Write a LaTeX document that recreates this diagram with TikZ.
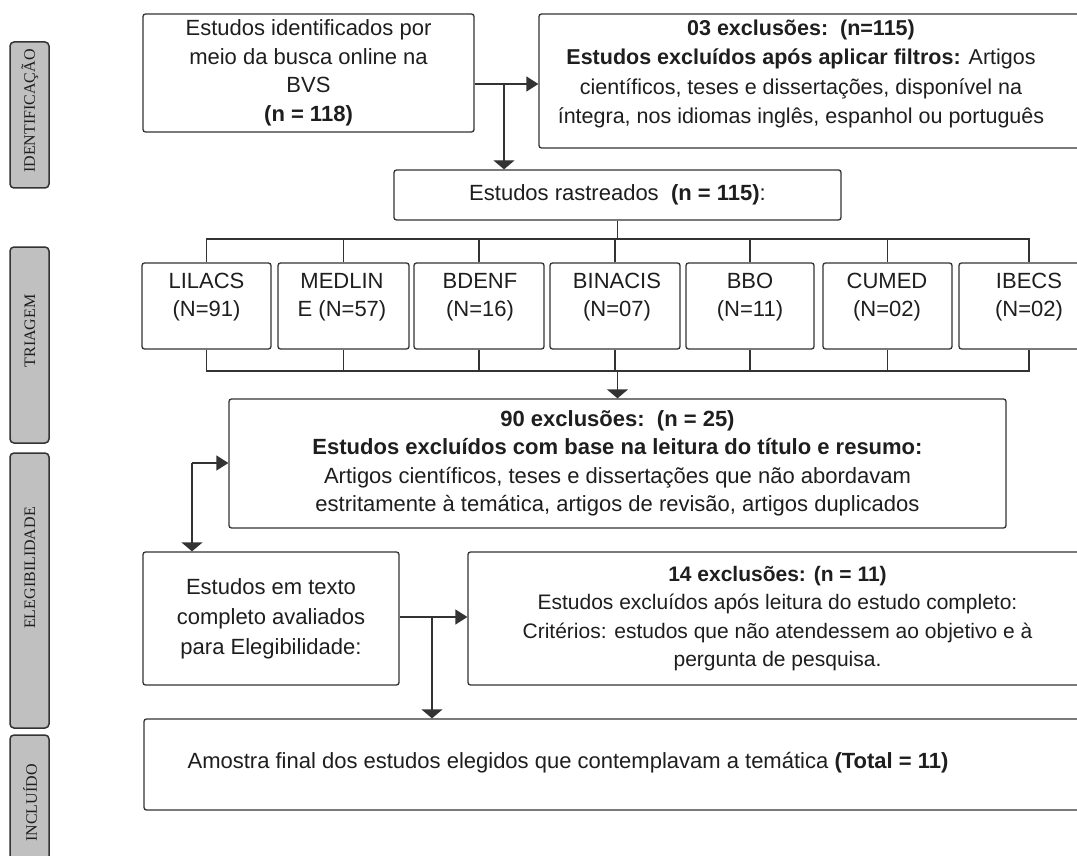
\documentclass[tikz,border=0pt]{standalone}
\usepackage{fontspec}
\setmainfont{Liberation Sans}
\newfontfamily\lblfont{Liberation Serif}
\usetikzlibrary{arrows.meta}
\definecolor{ln}{HTML}{333333}
\definecolor{tx}{HTML}{1E1E1E}
\definecolor{sidegray}{HTML}{C0C0C0}
\begin{document}
\begin{tikzpicture}[x=1pt,y=-1pt,
 box/.style={draw=ln, line width=1.3pt, rounded corners=2.5pt, fill=white, inner sep=0pt, text=tx, align=center, font=\fontsize{22}{28.5}\selectfont},
 txt/.style={inner sep=0pt, text=tx, align=center, font=\fontsize{22}{28.5}\selectfont},
 side/.style={draw=ln, line width=1.5pt, fill=sidegray, rounded corners=4pt, minimum width=39pt, inner sep=0pt},
 sidetxt/.style={rotate=90, inner sep=0pt, text=tx, font=\lblfont\fontsize{16}{18}\selectfont},
 conn/.style={draw=ln, line width=1.3pt},
 harr/.style={conn, -{Triangle[length=12pt,width=15pt]}},
 varr/.style={conn, -{Triangle[length=9pt,width=21pt]}},
]
\path[use as bounding box] (0,0) rectangle (1077,856);
\clip (0,0) rectangle (1077,856);
\fill[white] (0,0) rectangle (1077,856);

% side labels
\node[side, minimum height=146pt] (s1) at (29.5,115) {};
\node[sidetxt] (s1t) at (30,111) {IDENTIFICAÇÃO};
\node[side, minimum height=196pt] (s2) at (29.5,345) {};
\node[sidetxt] (s2t) at (30,331) {TRIAGEM};
\node[side, minimum height=275pt] (s3) at (29.5,590.5) {};
\node[sidetxt] (s3t) at (30,568) {ELEGIBILIDADE};
\node[side, minimum height=145pt] (s4) at (29.5,807.5) {};
\node[sidetxt] (s4t) at (30,803) {INCLUÍDO};

% main boxes
\node[box, minimum width=331pt, minimum height=118pt] (b1) at (308.5,73)
 {Estudos identificados por\\meio da busca online na\\BVS\\\textbf{(n = 118)}};
\node[box, minimum width=561pt, minimum height=134pt] (b2) at (819.5,81) {};
\node[txt, font=\fontsize{21.5}{29.3}\selectfont] (b2t) at (801,74)
 {\textbf{03 exclusões:\ \ (n=115)}\\
  \textbf{Estudos excluídos após aplicar filtros:} Artigos\\
  científicos, teses e dissertações, disponível na\\
  íntegra, nos idiomas inglês, espanhol ou português};
\node[box, minimum width=447pt, minimum height=50pt] (b3) at (617.5,195)
 {Estudos rastreados\ \ \textbf{(n = 115)}:};

% databases
\node[box, minimum width=129pt, minimum height=86pt] (lil) at (206.5,306) {};
\node[box, minimum width=131pt, minimum height=86pt] (med) at (343.5,306) {};
\node[box, minimum width=130pt, minimum height=86pt] (bde) at (479,306) {};
\node[box, minimum width=130pt, minimum height=86pt] (bin) at (615,306) {};
\node[box, minimum width=128pt, minimum height=86pt] (bbo) at (750,306) {};
\node[box, minimum width=129pt, minimum height=86pt] (cum) at (887.5,306) {};
\node[box, minimum width=140pt, minimum height=86pt] (ibe) at (1029,306) {};
\node[txt] (lilt) at (206.5,297) {LILACS\\(N=91)};
\node[txt] (medt) at (342,297) {MEDLIN\\E (N=57)};
\node[txt] (bdet) at (480,297) {BDENF\\(N=16)};
\node[txt] (bint) at (617,297) {BINACIS\\(N=07)};
\node[txt] (bbot) at (750,297) {BBO\\(N=11)};
\node[txt] (cumt) at (887,297) {CUMED\\(N=02)};
\node[txt] (ibet) at (1029,297) {IBECS\\(N=02)};

\node[box, minimum width=777pt, minimum height=129pt] (b4) at (617.5,463.5)
 {\textbf{90 exclusões:\ \ (n = 25)}\\
  \textbf{Estudos excluídos com base na leitura do título e resumo:}\\
  Artigos científicos, teses e dissertações que não abordavam\\
  estritamente à temática, artigos de revisão, artigos duplicados};
\node[box, minimum width=256pt, minimum height=133pt, font=\fontsize{22}{30}\selectfont] (b5) at (271,618.5)
 {Estudos em texto\\completo avaliados\\para Elegibilidade:};
\node[box, minimum width=619pt, minimum height=133pt, font=\fontsize{21}{28.5}\selectfont] (b6) at (777.5,618.5)
 {\textbf{14 exclusões: (n = 11)}\\
  Estudos excluídos após leitura do estudo completo:\\
  Critérios: estudos que não atendessem ao objetivo e à\\
  pergunta de pesquisa.};
\node[box, minimum width=956pt, minimum height=91pt] (b7) at (622,764.5) {};
\node[txt] (b7t) at (568,763)
 {Amostra final dos estudos elegidos que contemplavam a temática \textbf{(Total = 11)}};

% connectors
\coordinate (j1) at (504,84);
\draw[harr] (b1.east |- j1) -- (b2.west |- j1);
\draw[varr] (j1) -- (j1 |- b3.north);

\coordinate (bt) at (0,239);
\coordinate (bb) at (0,371);
\draw[conn] (b3.south) -- (b3.south |- bt);
\draw[conn] (lil.north) -- (lil.north |- bt) -- (ibe.north |- bt) -- (ibe.north);
\foreach \n in {med,bde,bin,bbo,cum} \draw[conn] (\n.north) -- (\n.north |- bt);
\draw[conn] (lil.south) -- (lil.south |- bb) -- (ibe.south |- bb) -- (ibe.south);
\foreach \n in {med,bde,bin,bbo,cum} \draw[conn] (\n.south) -- (\n.south |- bb);
\draw[varr] (b4.north |- bb) -- (b4.north);

\coordinate (j2) at (192,463);
\draw[harr] (j2) -- (j2 -| b4.west);
\draw[varr] (j2) -- (j2 |- b5.north);

\coordinate (j3) at (432,617);
\draw[harr] (b5.east |- j3) -- (b6.west |- j3);
\draw[varr] (j3) -- (j3 |- b7.north);
\end{tikzpicture}
\end{document}
